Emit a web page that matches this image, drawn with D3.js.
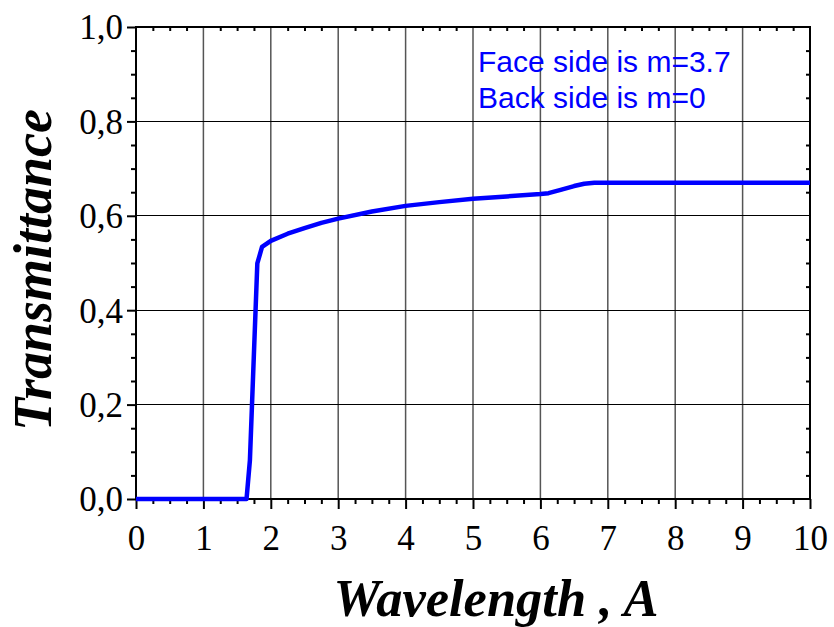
<!DOCTYPE html>
<html>
<head>
<meta charset="utf-8">
<script src="https://cdn.jsdelivr.net/npm/d3@7"></script>
<style>
  html, body { margin: 0; padding: 0; background: #fff; }
  svg { display: block; }
</style>
</head>
<body>
<svg id="chart" width="834" height="627"></svg>
<script>
// Transmittance curve (wavelength in Å)
const wavelength = [0, 1.64, 1.69, 1.80, 1.87, 2.0, 2.25, 2.5, 2.75, 3.0, 3.5, 4.0, 4.5, 5.0, 5.5, 6.0, 6.12, 6.3, 6.5, 6.65, 6.8, 10];
const transmittance = [0, 0, 0.082, 0.499, 0.534, 0.547, 0.562, 0.574, 0.585, 0.594, 0.609, 0.621, 0.629, 0.636, 0.641, 0.646, 0.648, 0.655, 0.663, 0.668, 0.670, 0.670];

const xTicks = [0, 1, 2, 3, 4, 5, 6, 7, 8, 9, 10];
const yTicks = [0, 0.2, 0.4, 0.6, 0.8, 1.0];
const legendLines = ["Face side is m=3.7", "Back side is m=0"];

const svg = d3.select("#chart");
const plotL = 136, plotR = 810, plotT = 27, plotB = 499;

const x = d3.scaleLinear().domain([0, 10]).range([plotL, plotR]);
const y = d3.scaleLinear().domain([0, 1]).range([plotB, plotT]);
const fmtY = v => d3.format(".1f")(v).replace(".", ",");

// grid
svg.append("g").selectAll("line").data(xTicks.slice(1, -1)).join("line")
  .attr("x1", d => x(d)).attr("x2", d => x(d))
  .attr("y1", plotT).attr("y2", plotB)
  .attr("stroke", "#555").attr("stroke-width", 1.5);
svg.append("g").selectAll("line").data(yTicks.slice(1, -1)).join("line")
  .attr("y1", d => y(d)).attr("y2", d => y(d))
  .attr("x1", plotL).attr("x2", plotR)
  .attr("stroke", "#000").attr("stroke-width", 1).attr("shape-rendering", "crispEdges");

// axes
const font = "'Liberation Serif', 'Times New Roman', serif";
const bottomAxis = svg.append("g").attr("transform", `translate(0,${plotB})`)
  .call(d3.axisBottom(x).tickValues(xTicks).tickSize(10).tickPadding(16).tickFormat(d3.format("d")));
const leftAxis = svg.append("g").attr("transform", `translate(${plotL},0)`)
  .call(d3.axisLeft(y).tickValues(yTicks).tickSize(9).tickPadding(4).tickFormat(fmtY));
const minorX = d3.range(0, 10.001, 0.25).filter(v => Math.abs(v - Math.round(v)) > 1e-6);
const minorY = d3.range(0, 1.0001, 0.05).filter(v => Math.abs(v * 5 - Math.round(v * 5)) > 1e-6);
svg.append("g").attr("transform", `translate(0,${plotB})`)
  .call(d3.axisBottom(x).tickValues(minorX).tickSize(5).tickFormat(""));
svg.append("g").attr("transform", `translate(${plotL},0)`)
  .call(d3.axisLeft(y).tickValues(minorY).tickSize(5).tickFormat(""));
svg.append("g").attr("transform", `translate(0,${plotT})`)
  .call(d3.axisBottom(x).tickValues(minorX).tickSize(4).tickFormat(""));
svg.append("g").attr("transform", `translate(${plotR},0)`)
  .call(d3.axisLeft(y).tickValues(minorY).tickSize(4).tickFormat(""));
svg.selectAll(".domain").remove();
svg.selectAll(".tick line").attr("stroke", "#000").attr("stroke-width", 2);
[bottomAxis, leftAxis].forEach(a => a.selectAll("text")
  .attr("font-family", font).attr("font-size", 35).attr("fill", "#000"));
leftAxis.selectAll("text").attr("dy", "0.34em");

// frame
svg.append("rect").attr("x", plotL).attr("y", plotT)
  .attr("width", plotR - plotL).attr("height", plotB - plotT)
  .attr("fill", "none").attr("stroke", "#000").attr("stroke-width", 2);

// curve
const pts = wavelength.map((w, i) => [w, transmittance[i]]);
svg.append("path").datum(pts)
  .attr("fill", "none").attr("stroke", "#0000ff").attr("stroke-width", 4.5)
  .attr("stroke-linejoin", "round")
  .attr("d", d3.line().x(d => x(d[0])).y(d => y(d[1])));

// legend text
svg.append("g").selectAll("text").data(legendLines).join("text")
  .attr("x", 478).attr("y", (d, i) => 72 + i * 36)
  .attr("font-family", "'Liberation Sans', Arial, sans-serif")
  .attr("font-size", 30).attr("fill", "#0000ff").text(d => d);

// axis titles
svg.append("text").attr("x", 496).attr("y", 616)
  .attr("text-anchor", "middle").attr("font-family", font)
  .attr("font-size", 52.5).attr("font-weight", "bold").attr("font-style", "italic")
  .text("Wavelength , A");
svg.append("text").attr("transform", "translate(51,270) rotate(-90)")
  .attr("text-anchor", "middle").attr("font-family", font)
  .attr("font-size", 54).attr("font-weight", "bold").attr("font-style", "italic")
  .text("Transmittance");
</script>
</body>
</html>
